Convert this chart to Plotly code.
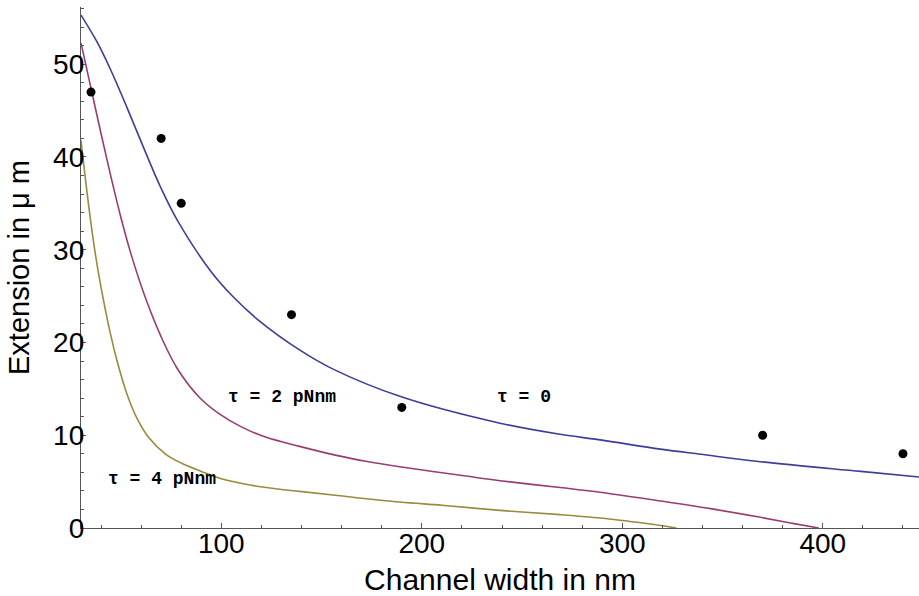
import plotly.graph_objects as go

# Measured data points
data_x = [35, 70, 80, 135, 190, 370, 440]
data_y = [47, 42, 35, 23, 13, 10, 8]

# Curve: tau = 0
tau0_x = [30, 38, 45, 53, 62, 70, 78, 95, 106, 118, 139, 156, 189, 239, 269, 289, 319, 339, 369, 419, 448]
tau0_y = [55.3, 52.4, 49.3, 45.3, 40.6, 36.6, 33.2, 27.6, 24.9, 22.5, 19.2, 17.1, 14.2, 11.3, 10.1, 9.5, 8.5, 7.95, 7.15, 6.1, 5.5]

# Curve: tau = 2 pNnm
tau2_x = [30, 35, 40, 45, 50, 55, 62, 70, 78, 89, 99, 110, 122, 139, 158, 172, 189, 222, 239, 269, 289, 319, 344, 369, 385, 398]
tau2_y = [52.3, 47.4, 42.5, 37.8, 33.4, 29.5, 24.9, 20.6, 17.2, 14.1, 12.3, 10.9, 9.8, 8.8, 7.8, 7.2, 6.6, 5.6, 5.1, 4.36, 3.85, 2.91, 2.09, 1.15, 0.5, 0.0]

# Curve: tau = 4 pNnm
tau4_x = [30, 32, 35, 38, 41, 44, 48, 53, 58, 64, 72, 80, 90, 100, 115, 128, 139, 158, 189, 210, 239, 269, 289, 300, 315, 327]
tau4_y = [41.8, 38.0, 32.8, 28.4, 24.8, 21.6, 18.0, 14.4, 11.8, 9.7, 8.0, 7.0, 6.1, 5.3, 4.6, 4.2, 3.95, 3.5, 2.8, 2.45, 1.9, 1.44, 1.08, 0.8, 0.4, 0.0]

labels = ["τ = 0", "τ = 2 pNnm", "τ = 4 pNnm"]
label_x = [251, 130.5, 70.2]
label_y = [14.1, 14.1, 5.25]

fig = go.Figure()
for xs, ys, col in [(tau0_x, tau0_y, "#3d3d99"), (tau2_x, tau2_y, "#993d71"), (tau4_x, tau4_y, "#998b3d")]:
    fig.add_trace(go.Scatter(x=xs, y=ys, mode="lines", line=dict(color=col, width=1.6, shape="spline"),
                             showlegend=False, hoverinfo="skip"))
fig.add_trace(go.Scatter(x=data_x, y=data_y, mode="markers",
                         marker=dict(color="black", size=9), showlegend=False))

for t, x, y in zip(labels, label_x, label_y):
    fig.add_annotation(x=x, y=y, text="<b>" + t + "</b>", showarrow=False,
                       font=dict(family="Liberation Mono", size=18, color="black"))

axis_common = dict(showgrid=False, zeroline=False, showline=True, linecolor="#555555", linewidth=1.3,
                   ticks="inside", ticklen=5, tickwidth=1, tickcolor="#555555",
                   ticklabelstandoff=-10,
                   tickfont=dict(family="Liberation Sans", size=28, color="black"))

fig.update_xaxes(range=[30, 448], tickvals=[100, 200, 300, 400],
                 minor=dict(ticks="inside", ticklen=3, dtick=20, tick0=0, tickcolor="#555555"),
                 title=dict(text="Channel width in nm", font=dict(family="Liberation Sans", size=30, color="black"),
                            standoff=12),
                 **axis_common)
fig.update_yaxes(range=[0, 56.17], tickvals=[0, 10, 20, 30, 40, 50],
                 minor=dict(ticks="inside", ticklen=3, dtick=2, tick0=0, tickcolor="#555555"),
                 title=dict(text="Extension in μ m", font=dict(family="Liberation Sans", size=29, color="black"),
                            standoff=14),
                 **axis_common)

fig.update_layout(width=919, height=596, autosize=False,
                  margin=dict(l=81, r=0, t=7, b=68),
                  plot_bgcolor="white", paper_bgcolor="white")

fig.write_html("out.html", config={"displayModeBar": False},
               post_script="document.body.style.margin='0';document.body.style.overflow='hidden';")
